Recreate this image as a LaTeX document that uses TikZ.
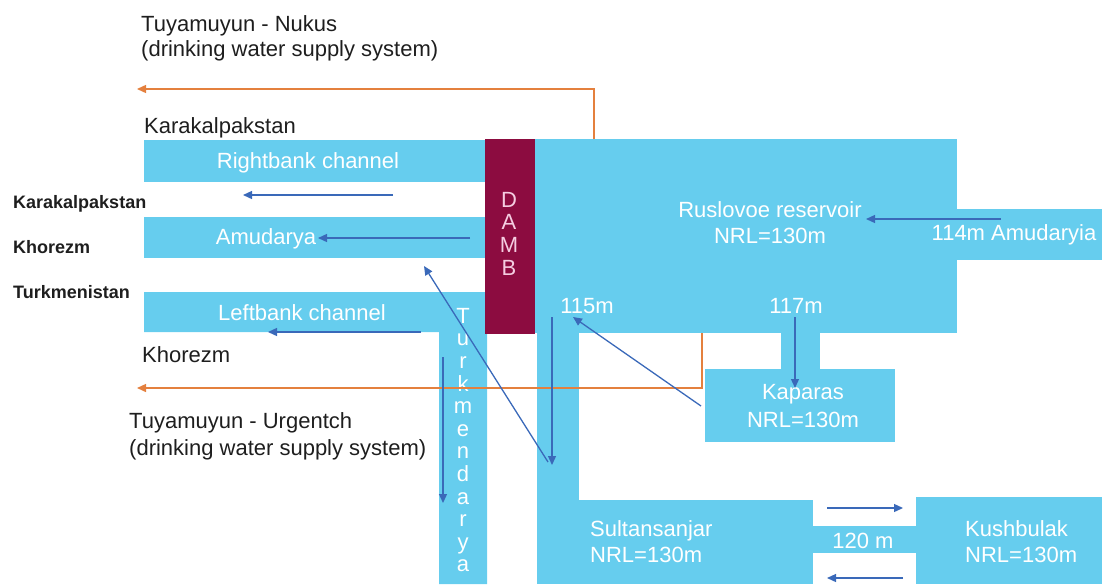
\documentclass[tikz,border=0pt]{standalone}
\usepackage{fontspec}
\setmainfont{Liberation Sans}
\usetikzlibrary{arrows.meta}
\definecolor{water}{RGB}{102,205,238}
\definecolor{damcol}{RGB}{140,12,64}
\definecolor{damtxt}{RGB}{245,205,225}
\definecolor{flowblue}{RGB}{58,105,185}
\definecolor{pipeor}{RGB}{228,128,62}
\definecolor{txt}{RGB}{30,30,30}
\tikzset{
  waterfill/.style={fill=water},
  damfill/.style={fill=damcol},
  lbl/.style={font=\fontsize{22}{27}\selectfont, text=txt, inner sep=0pt},
  wlbl/.style={lbl, text=white},
  blbl/.style={font=\fontsize{18}{22}\selectfont\bfseries, text=txt, inner sep=0pt},
  vlbl/.style={font=\fontsize{22}{22.6}\selectfont, align=center, inner sep=0pt},
  flow/.style={draw=flowblue, line width=1.3pt, -{Triangle[length=9pt,width=8pt]}},
  pipe/.style={draw=pipeor, line width=1.4pt, -{Triangle[length=9pt,width=8pt]}}
}
\begin{document}
\begin{tikzpicture}[x=1pt,y=-1pt]
\useasboundingbox (0,0) rectangle (1102,584);
% channels
\fill[waterfill] (144,140) rectangle (485,182);
\fill[waterfill] (144,217) rectangle (485,258);
\fill[waterfill] (144,292) -- (487,292) -- (487,584) -- (439,584) -- (439,332) -- (144,332) -- cycle;
% reservoir and basins
\fill[waterfill] (534,139) rectangle (957,333);
\fill[waterfill] (950,209) rectangle (1102,260);
\fill[waterfill] (781,330) rectangle (820,372);
\fill[waterfill] (705,369) rectangle (895,442);
\fill[waterfill] (537,330) rectangle (579,505);
\fill[waterfill] (537,500) rectangle (813,584);
\fill[waterfill] (810,526) rectangle (919,553);
\fill[waterfill] (916,497) rectangle (1102,584);
% dam
\fill[damfill] (485,139) rectangle (535,334);
\node[vlbl, text=damtxt, anchor=north] (damb) at (509,192) {D\\A\\M\\B};
\node[vlbl, text=white, anchor=north] (turkm) at (463,308) {T\\u\\r\\k\\m\\e\\n\\d\\a\\r\\y\\a};

% labels
\node[lbl, anchor=base west] (nukus1) at (141,31) {Tuyamuyun - Nukus};
\node[lbl, anchor=base west] (nukus2) at (141,56) {(drinking water supply system)};
\node[lbl, anchor=base west] (karak) at (144,133) {Karakalpakstan};
\node[wlbl, anchor=base] (rightb) at (308,168) {Rightbank channel};
\node[wlbl, anchor=base] (amud) at (266,244) {Amudarya};
\node[wlbl, anchor=base] (leftb) at (302,320) {Leftbank channel};
\node[lbl, anchor=base west] (khor) at (142,362) {Khorezm};
\node[lbl, anchor=base west] (urg1) at (129,428) {Tuyamuyun - Urgentch};
\node[lbl, anchor=base west] (urg2) at (129,455) {(drinking water supply system)};
\node[blbl, anchor=base west] (bkarak) at (13,208) {Karakalpakstan};
\node[blbl, anchor=base west] (bkhor) at (13,253) {Khorezm};
\node[blbl, anchor=base west] (bturk) at (13,298) {Turkmenistan};
\node[wlbl, anchor=base] (rusl1) at (770,217) {Ruslovoe reservoir};
\node[wlbl, anchor=base] (rusl2) at (770,243) {NRL=130m};
\node[wlbl, anchor=base] (amin) at (1014,240) {114m Amudaryia};
\node[wlbl, anchor=base] (m115) at (587,313) {115m};
\node[wlbl, anchor=base] (m117) at (796,313) {117m};
\node[wlbl, anchor=base] (kap1) at (803,399) {Kaparas};
\node[wlbl, anchor=base] (kap2) at (803,427) {NRL=130m};
\node[wlbl, anchor=base west] (sul1) at (590,536) {Sultansanjar};
\node[wlbl, anchor=base west] (sul2) at (590,562) {NRL=130m};
\node[wlbl, anchor=base] (m120) at (863,548) {120 m};
\node[wlbl, anchor=base west] (kus1) at (965,536) {Kushbulak};
\node[wlbl, anchor=base west] (kus2) at (965,562) {NRL=130m};

% orange pipelines
\coordinate (nk0) at (594,139);
\coordinate (nk1) at (594,89);
\coordinate (nk2) at (137,89);
\draw[pipe] (nk0) -- (nk1) -- (nk2);
\coordinate (ur0) at (702,333);
\coordinate (ur1) at (702,388);
\coordinate (ur2) at (137,388);
\draw[pipe] (ur0) -- (ur1) -- (ur2);

% blue flows
\coordinate (f1s) at (393,195); \coordinate (f1e) at (243,195);
\draw[flow] (f1s) -- (f1e);
\coordinate (f2s) at (470,238); \coordinate (f2e) at (318,238);
\draw[flow] (f2s) -- (f2e);
\coordinate (f3s) at (548,462); \coordinate (f3e) at (424,266);
\draw[flow] (f3s) -- (f3e);
\coordinate (f4s) at (552,317); \coordinate (f4e) at (552,465);
\draw[flow] (f4s) -- (f4e);
\coordinate (f5s) at (443,357); \coordinate (f5e) at (443,503);
\draw[flow] (f5s) -- (f5e);
\coordinate (f6s) at (421,332); \coordinate (f6e) at (268,332);
\draw[flow] (f6s) -- (f6e);
\coordinate (f7s) at (701,406); \coordinate (f7e) at (573,317);
\draw[flow] (f7s) -- (f7e);
\coordinate (f8s) at (795,317); \coordinate (f8e) at (795,388);
\draw[flow] (f8s) -- (f8e);
\coordinate (f9s) at (1001,219); \coordinate (f9e) at (866,219);
\draw[flow] (f9s) -- (f9e);
\coordinate (f10s) at (827,508); \coordinate (f10e) at (903,508);
\draw[flow] (f10s) -- (f10e);
\coordinate (f11s) at (903,578); \coordinate (f11e) at (827,578);
\draw[flow] (f11s) -- (f11e);
\end{tikzpicture}
\end{document}
